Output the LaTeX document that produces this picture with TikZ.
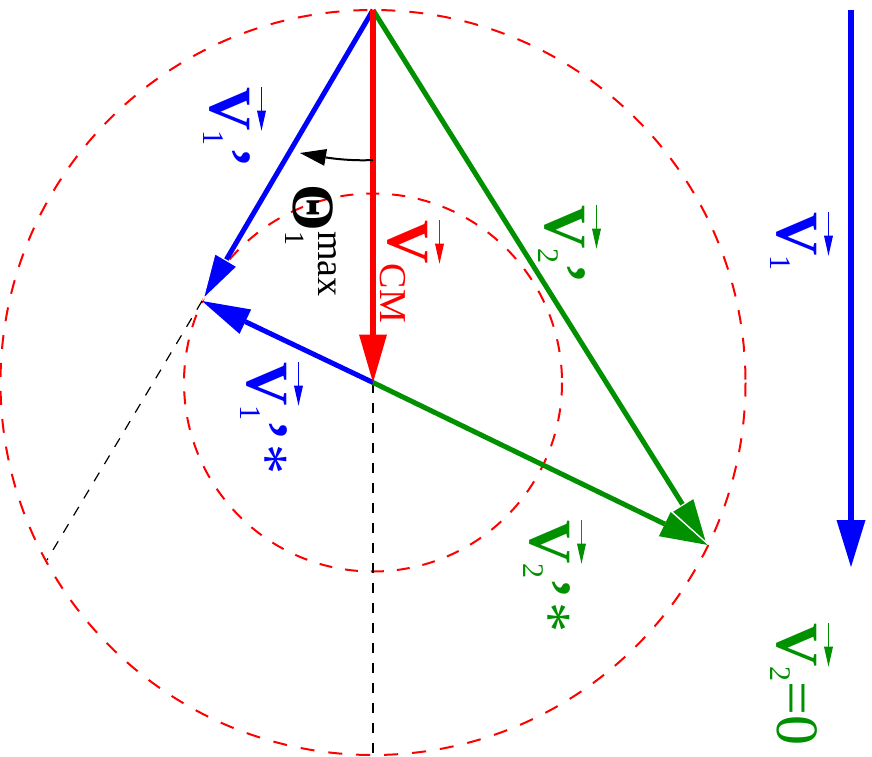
\documentclass[tikz,border=0pt]{standalone}
\usepackage{fontspec}
\setmainfont{Liberation Serif}
\usetikzlibrary{arrows.meta}
\definecolor{fgreen}{RGB}{0,144,0}
\newcommand{\lowsub}[1]{{\fontsize{30}{30}\selectfont\raisebox{-7pt}{#1}}}
\begin{document}
\begin{tikzpicture}[x=1pt,y=-1pt,
  circ/.style={red,line width=2pt,dash pattern=on 14pt off 14pt},
  circs/.style={red,line width=2pt,dash pattern=on 13pt off 13pt},
  guide/.style={black,line width=1.2pt,dash pattern=on 10pt off 10pt},
  vline/.style={line width=5pt},
  vtip/.style={-{Triangle[length=48pt,width=27pt,line width=0pt]}},
  wtip/.style={-{Triangle[length=48pt,width=27pt,line width=1.2pt,color=white,fill=#1]}},
  atip/.style={-{Triangle[length=26pt,width=17pt,line width=0pt]}},
  vecarr/.style={line width=1.6pt,-{Triangle[length=20pt,width=9pt,line width=0pt]}},
  Vn/.style={rotate=-90,inner sep=0pt,anchor=base west,font=\fontsize{60}{60}\selectfont\bfseries},
  rest/.style={rotate=-90,inner sep=0pt,anchor=base west,font=\fontsize{60}{60}\selectfont}]
\useasboundingbox (0,0) rectangle (872,756);
\coordinate (A) at (373,10);
\coordinate (C) at (373,382.5);
\coordinate (T) at (202,301);
\coordinate (P) at (708,545);
\coordinate (E) at (47,560);
\coordinate (B) at (373,755);
\coordinate (R1) at (851,10);
\coordinate (R2) at (851,567);
\coordinate (K1) at (373,160);
\coordinate (K2) at (300,153);
% circles and guides
\draw[circ] (C) circle[radius=372.5];
\draw[circs] (C) circle[radius=189];
\draw[guide] (C) -- (B);
\draw[guide] (T) -- (E);
% vectors
\draw[vline,fgreen,vtip] (C) -- (P);
\draw[vline,fgreen,wtip=fgreen] (A) -- (P);
\draw[vline,blue,vtip] (C) -- (T);
\draw[vline,blue,wtip=blue] (A) -- (T);
\draw[line width=6pt,red,-{Triangle[length=48pt,width=28pt,line width=0pt]}] (A) -- (C);
\draw[line width=6pt,blue,-{Triangle[length=47pt,width=29pt,line width=0pt]}] (R1) -- (R2);
\draw[line width=2pt,black,atip] (K1) .. controls (355,161) and (335,159) .. (K2);
% labels
\node[Vn,text=blue] (a1) at (210,87) {V};
\node[rest,text=blue] (a1r) at (a1.base east) {\lowsub{1}\hspace{2pt}\textbf{’}};
\draw[vecarr,blue] ([xshift=12pt]a1.north west) -- ([xshift=12pt]a1.north east);

\node[Vn,text=blue] (a2) at (247,362) {V};
\node[rest,text=blue] (a2r) at (a2.base east) {\lowsub{1}\textbf{’}\hspace{4pt}*};
\draw[vecarr,blue] ([xshift=12pt]a2.north west) -- ([xshift=12pt]a2.north east);

\node[Vn,text=black] (th) at (293,184) {Θ};
\node[rest,text=black] (thr) at (th.base east) {\rlap{\raisebox{-8pt}{\fontsize{28}{28}\selectfont 1}}\raisebox{25pt}{\fontsize{38}{38}\selectfont max}};

\node[Vn,text=red] (cm) at (388,220) {V};
\node[rest,text=red] (cmr) at (cm.base east) {\raisebox{-8pt}{\fontsize{38}{38}\selectfont CM}};
\draw[vecarr,red] ([xshift=12pt]cm.north west) -- ([xshift=12pt]cm.north east);

\node[Vn,text=fgreen] (b1) at (545,205) {V};
\node[rest,text=fgreen] (b1r) at (b1.base east) {\lowsub{2}\textbf{’}};
\draw[vecarr,fgreen] ([xshift=12pt]b1.north west) -- ([xshift=12pt]b1.north east);

\node[Vn,text=fgreen] (b2) at (530,520) {V};
\node[rest,text=fgreen] (b2r) at (b2.base east) {\lowsub{2}\textbf{’}\hspace{4pt}*};
\draw[vecarr,fgreen] ([xshift=12pt]b2.north west) -- ([xshift=12pt]b2.north east);

\node[Vn,text=blue] (c1) at (777,212) {V};
\node[rest,text=blue] (c1r) at (c1.base east) {\lowsub{1}};
\draw[vecarr,blue] ([xshift=12pt]c1.north west) -- ([xshift=12pt]c1.north east);

\node[Vn,text=fgreen] (c2) at (777,623) {V};
\node[rest,text=fgreen] (c2r) at (c2.base east) {\lowsub{2}=0};
\draw[vecarr,fgreen] ([xshift=12pt]c2.north west) -- ([xshift=12pt]c2.north east);
\end{tikzpicture}
\end{document}
